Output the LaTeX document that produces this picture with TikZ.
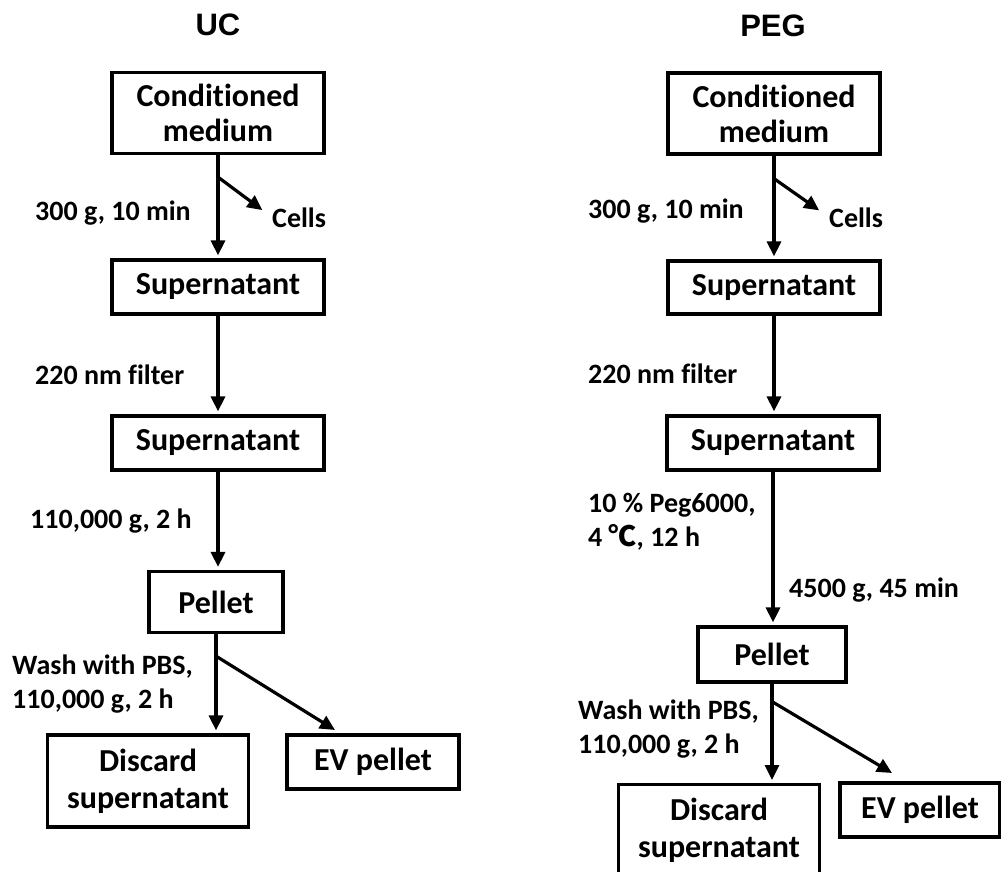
\documentclass[tikz,border=0pt]{standalone}
\usepackage{fontspec}
\setmainfont{Carlito}[Ligatures={NoCommon}]
\newfontfamily\titlefont{Liberation Sans}
\newfontfamily\cjk{Noto Sans CJK SC}
\usetikzlibrary{arrows.meta}
\begin{document}
\begin{tikzpicture}[x=1pt,y=-1pt,
  box/.style={draw, line width=3.2pt, inner sep=0pt, align=center,
    font=\fontsize{32}{35}\selectfont\bfseries},
  lbl/.style={inner sep=0pt, align=left,
    font=\fontsize{28}{34}\selectfont\bfseries},
  ttl/.style={inner sep=0pt, font=\titlefont\fontsize{31}{34}\selectfont\bfseries},
  arr/.style={line width=3.2pt, -{Triangle[width=14pt,length=15pt]}, shorten >=3pt},
]
\useasboundingbox (0,0) rectangle (1001,872);
\clip (0,0) rectangle (1001,872);

% ---------------- UC column ----------------
\node[ttl] (uct) at (218,25) {UC};
\node[box, minimum width=212pt, minimum height=81pt] (lcm) at (218,113) {Conditioned\\medium};
\node[box, minimum width=212pt, minimum height=54pt] (ls1) at (218,287) {Supernatant};
\node[box, minimum width=212pt, minimum height=54pt] (ls2) at (218,443) {Supernatant};
\node[box, minimum width=134pt, minimum height=61pt] (lp) at (216,602) {Pellet};
\node[box, minimum width=201pt, minimum height=92pt,
  font=\fontsize{32}{37}\selectfont\bfseries] (ld) at (148,781) {Discard\\supernatant};
\node[box, minimum width=172pt, minimum height=54pt] (lev) at (373,762) {EV pellet};

\node[lbl, anchor=base west] (l1) at (35,220) {300 g, 10 min};
\node[lbl, anchor=base west] (lcells) at (272,227) {Cells};
\node[lbl, anchor=base west] (l2) at (35,384) {220 nm filter};
\node[lbl, anchor=base west] (l3) at (30,528) {110,000 g, 2 h};
\node[lbl, anchor=west] (l4) at (12,684) {Wash with PBS,\\110,000 g, 2 h};

\draw[arr] (lcm.south) -- (ls1.north);
\path (lcm.south) ++(0,22) coordinate (lb1);
\draw[arr, shorten >=12pt] (lb1) -- (lcells.west);
\draw[arr] (ls1.south) -- (ls2.north);
\draw[arr] (ls2.south) -- (ls2.south |- lp.north);
\draw[arr] (lp.south) -- (lp.south |- ld.north);
\path (lp.south) ++(0,22) coordinate (lb2);
\coordinate (levin) at (335,730);
\draw[arr, shorten >=0pt] (lb2) -- (levin);

% ---------------- PEG column ----------------
\node[ttl] (pegt) at (773,26) {PEG};
\node[box, minimum width=212pt, minimum height=81pt] (rcm) at (774,113.5) {Conditioned\\medium};
\node[box, minimum width=212pt, minimum height=53pt] (rs1) at (774,287.5) {Supernatant};
\node[box, minimum width=212pt, minimum height=54pt] (rs2) at (773,443) {Supernatant};
\node[box, minimum width=148pt, minimum height=55pt] (rp) at (772,654.5) {Pellet};
\node[box, minimum width=201pt, minimum height=140pt, anchor=north] (rd) at (719,783) {};
\node[inner sep=0pt, align=center, font=\fontsize{32}{37}\selectfont\bfseries] (rdt) at (719,830) {Discard\\supernatant};
\node[box, minimum width=160pt, minimum height=54pt] (rev) at (920,810) {EV pellet};

\node[lbl, anchor=base west] (r1) at (588,218) {300 g, 10 min};
\node[lbl, anchor=base west] (rcells) at (829,227) {Cells};
\node[lbl, anchor=base west] (r2) at (588,383) {220 nm filter};
\node[lbl, anchor=west] (r3) at (588,522) {10 \% Peg6000,\\4 {\cjk ℃}, 12 h};
\node[lbl, anchor=base west] (r4) at (789,597) {4500 g, 45 min};
\node[lbl, anchor=west] (r5) at (578,729) {Wash with PBS,\\110,000 g, 2 h};

\draw[arr] (rcm.south) -- (rs1.north);
\path (rcm.south) ++(0,23) coordinate (rb1);
\draw[arr, shorten >=12pt] (rb1) -- (rcells.west);
\draw[arr] (rs1.south) -- (rs1.south |- rs2.north);
\draw[arr] (rs2.south) -- (rs2.south |- rp.north);
\draw[arr] (rp.south) -- (rp.south |- rd.north);
\path (rp.south) ++(0,18) coordinate (rb2);
\coordinate (revin) at (892,773);
\draw[arr, shorten >=0pt] (rb2) -- (revin);
\end{tikzpicture}
\end{document}
